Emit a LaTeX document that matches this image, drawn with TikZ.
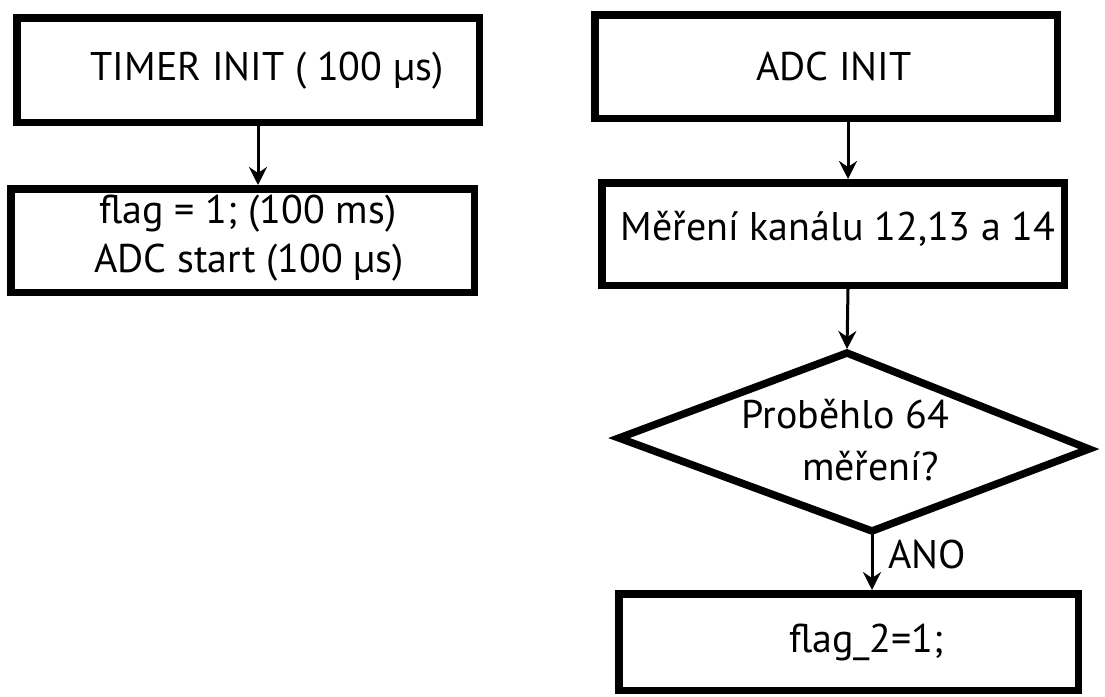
\documentclass[tikz,border=0pt]{standalone}
\usepackage{fontspec}
\setmainfont{PT Sans}
\usetikzlibrary{arrows.meta}

\begin{document}
\begin{tikzpicture}[x=1pt,y=-1pt,
  box/.style={draw,line width=7.5pt,rectangle,inner sep=0pt,minimum width=462.5pt},
  conn/.style={line width=3pt,-{Stealth[length=18pt,width=18pt,inset=6pt]}},
  txt/.style={inner sep=0pt,anchor=base,font=\fontsize{40}{48}\selectfont}]
\useasboundingbox (0,0) rectangle (1105,696);
% timer side
\node[box,minimum height=104.5pt] (timer) at (248,70) {};
\node[box,minimum width=463.5pt,minimum height=103.5pt] (flags) at (242.5,240.5) {};
\node[txt] (timertxt) at (267,80) {TIMER INIT ( 100 µs)};
\node[txt] (flagstxt) at (248,223) {flag = 1; (100 ms)};
\node[txt] (starttxt) at (249,272) {ADC start (100 µs)};
\draw[conn] ([xshift=10pt]timer.south) -- ([xshift=15.5pt]flags.north);
% adc side
\node[box,minimum height=103.5pt] (adcinit) at (826,66.5) {};
\node[box,minimum height=102.5pt] (mereni) at (833,234) {};
\node[txt] (adctxt) at (834,80) {ADC INIT};
\node[txt] (meretxt) at (838,240) {Měření kanálu 12,13 a 14};
\draw[conn] ([xshift=22pt]adcinit.south) -- ([xshift=15pt]mereni.north);
% decision
\coordinate (qT) at (847,353);
\coordinate (qL) at (619,438);
\coordinate (qR) at (1089,449);
\coordinate (qB) at (872,531);
\draw[line width=7.5pt] (qT) -- (qR) -- (qB) -- (qL) -- cycle;
\node[txt] (dec1) at (845.5,428) {Proběhlo 64};
\node[txt] (dec2) at (870.5,480) {měření?};
\draw[conn] ([xshift=15pt]mereni.south) -- ([yshift=4pt]qT);
\node[box,minimum width=459.5pt,minimum height=96.5pt] (flag2) at (848.5,642) {};
\node[txt] (flag2txt) at (866.5,652) {flag\_2=1;};
\draw[conn] (qB) -- (flag2.north -| qB);
\node[txt,anchor=base west] (ano) at (888,568) {ANO};
\end{tikzpicture}
\end{document}
